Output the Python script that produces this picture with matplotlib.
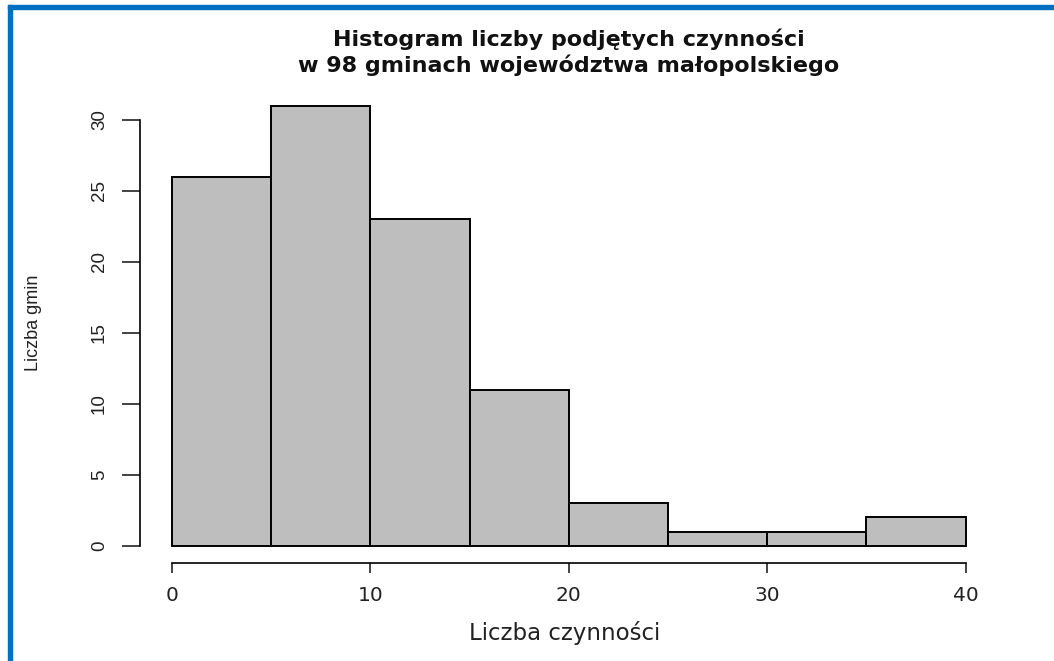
import matplotlib.pyplot as plt
from matplotlib.patches import Rectangle

# histogram bins (5-wide) and counts of municipalities per bin
bin_edges = [0, 5, 10, 15, 20, 25, 30, 35, 40]
counts = [26, 31, 23, 11, 3, 1, 1, 2]
x_ticks = [0, 10, 20, 30, 40]
y_ticks = [0, 5, 10, 15, 20, 25, 30]

title_lines = ['Histogram liczby podjętych czynności',
               'w 98 gminach województwa małopolskiego']
xlabel = 'Liczba czynności'
ylabel = 'Liczba gmin'

W, H = 1054, 661
fig = plt.figure(figsize=(W / 100, H / 100), dpi=100)

# R-style plot region: axis lines sit at the edge of a 4% padded range
ax = fig.add_axes([140 / W, 1 - 563.3 / H, 857.5 / W, (563.3 - 88.2) / H])
ax.set_xlim(-1.6, 41.6)
ax.set_ylim(-1.24, 32.24)

widths = [b - a for a, b in zip(bin_edges[:-1], bin_edges[1:])]
ax.bar(bin_edges[:-1], counts, width=widths, align='edge',
       color='#bebebe', edgecolor='black', linewidth=1.4)

for s in ['top', 'right']:
    ax.spines[s].set_visible(False)
ax.spines['left'].set_bounds(min(y_ticks), max(y_ticks))
ax.spines['bottom'].set_bounds(min(x_ticks), max(x_ticks))
for s in ['left', 'bottom']:
    ax.spines[s].set_linewidth(1.2)

ax.set_xticks(x_ticks)
ax.set_yticks(y_ticks)
ax.tick_params(axis='x', length=7, width=1.2, pad=9, labelsize=14.5, colors='#222222')
ax.tick_params(axis='y', length=13, width=1.2, pad=10, labelsize=13.5, colors='#222222')
for lab in ax.get_xticklabels():
    lab.set_fontfamily('DejaVu Sans')
for lab in ax.get_yticklabels():
    lab.set_fontfamily('Liberation Sans')
    lab.set_rotation(90)
    lab.set_va('center')

# two-line bold title, each line placed on its own baseline
for line, base in zip(title_lines, [46, 72]):
    fig.text(569 / W, 1 - base / H, line, ha='center', va='baseline', fontsize=16,
             fontweight='bold', family='DejaVu Sans', color='#111111')
fig.text(565 / W, 1 - 633 / H, xlabel, ha='center', va='center', fontsize=16.5,
         family='DejaVu Sans', color='#222222')
fig.text(33 / W, 1 - 323 / H, ylabel, ha='center', va='center', fontsize=13,
         rotation=90, family='Liberation Sans', color='#222222')

# blue frame along the top and left edges
fig.patches.append(Rectangle((8 / W, 0), 4 / W, 1 - 5 / H, transform=fig.transFigure,
                             color='#0070c0', zorder=10))
fig.patches.append(Rectangle((8 / W, 1 - 9 / H), 1 - 8 / W, 4 / H, transform=fig.transFigure,
                             color='#0070c0', zorder=10))

fig.savefig('out.png', dpi=100)
